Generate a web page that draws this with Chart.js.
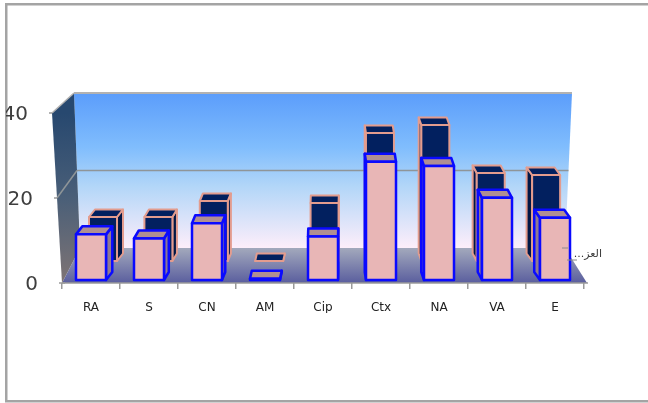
<!DOCTYPE html>
<html>
<head>
<meta charset="utf-8">
<style>html,body{margin:0;padding:0;background:#fff}canvas{display:block}</style>
<script src="https://cdn.jsdelivr.net/npm/chart.js@4/dist/chart.umd.js"></script>
</head>
<body>
<canvas id="c" width="648" height="403"></canvas>
<script>
// Antibiotic categories and the two series of the 3D column chart
const categories = ['RA', 'S', 'CN', 'AM', 'Cip', 'Ctx', 'NA', 'VA', 'E'];
const frontValues = [11, 10, 13.7, 0.3, 10.5, 28.5, 27.5, 19.8, 15];
const backValues = [11, 11, 15, 0, 14.5, 32, 34, 22, 21.5];
const yTicks = [0, 20, 40];
const depthLabel = 'العز...';

// Perspective constants of the 3D box
const VANISH_X = 358, BACK_RATIO = 0.955, LEAN_K = 0.026;
const TOP_RISE = { front: 8, back: 7.5 };
const WALL_TOP = 93, WALL_BOTTOM = 248, WALL_LEFT_TOP = 74, WALL_LEFT_BOTTOM = 80;
const WALL_RIGHT_TOP = 572, WALL_RIGHT_BOTTOM = 565;

function poly(ctx, pts, fill, stroke, lw) {
  ctx.beginPath();
  pts.forEach((p, i) => i ? ctx.lineTo(p[0], p[1]) : ctx.moveTo(p[0], p[1]));
  ctx.closePath();
  if (fill) { ctx.fillStyle = fill; ctx.fill(); }
  if (stroke) { ctx.strokeStyle = stroke; ctx.lineWidth = lw; ctx.lineJoin = 'round'; ctx.stroke(); }
}

function line(ctx, x1, y1, x2, y2, color, lw) {
  ctx.beginPath(); ctx.moveTo(x1, y1); ctx.lineTo(x2, y2);
  ctx.strokeStyle = color; ctx.lineWidth = lw; ctx.stroke();
}

// Room of the 3D chart: back wall, floor, left wall, gridlines and value labels
const room = {
  id: 'room',
  beforeDatasetsDraw(chart) {
    const { ctx, chartArea: a, scales } = chart;
    const y = scales.y;
    const edgeX = v => a.left - v * 0.25;
    const backY = v => WALL_BOTTOM - (WALL_BOTTOM - WALL_TOP) * v / 40;
    const backLeft = v => WALL_LEFT_BOTTOM - (WALL_LEFT_BOTTOM - WALL_LEFT_TOP) * v / 40;
    const backRight = v => WALL_RIGHT_BOTTOM + (WALL_RIGHT_TOP - WALL_RIGHT_BOTTOM) * v / 40;
    ctx.save();

    // outer frame, open on the right
    ctx.fillStyle = '#a4a4a4';
    ctx.fillRect(5, 3, 643, 2.5);
    ctx.fillRect(5, 3, 2.5, 399);
    ctx.fillRect(5, 400, 643, 2.5);

    const wall = ctx.createLinearGradient(0, WALL_TOP, 0, WALL_BOTTOM);
    wall.addColorStop(0, '#5b9dfb');
    wall.addColorStop(0.35, '#80bdfd');
    wall.addColorStop(0.6, '#b2d6f8');
    wall.addColorStop(1, '#fdeefa');
    poly(ctx, [[WALL_LEFT_TOP, WALL_TOP], [WALL_RIGHT_TOP, WALL_TOP], [WALL_RIGHT_BOTTOM, WALL_BOTTOM], [WALL_LEFT_BOTTOM, WALL_BOTTOM]], wall);

    const floor = ctx.createLinearGradient(0, WALL_BOTTOM, 0, a.bottom);
    floor.addColorStop(0, '#a3a9bc');
    floor.addColorStop(1, '#5a5e9e');
    poly(ctx, [[WALL_LEFT_BOTTOM, WALL_BOTTOM], [WALL_RIGHT_BOTTOM, WALL_BOTTOM], [a.right + 3, a.bottom], [a.left, a.bottom]], floor);

    const side = ctx.createLinearGradient(0, y.top, 0, y.bottom);
    side.addColorStop(0, '#27486f');
    side.addColorStop(0.5, '#4a5f78');
    side.addColorStop(1, '#7f7474');
    poly(ctx, [[edgeX(40), y.getPixelForValue(40)], [WALL_LEFT_TOP, WALL_TOP], [WALL_LEFT_BOTTOM, WALL_BOTTOM], [a.left, a.bottom]], side);

    // gridlines run along the left wall and across the back wall
    yTicks.forEach(v => {
      const py = y.getPixelForValue(v);
      if (v > 0) {
        const col = v === 40 ? '#b2b2b2' : '#8f9598';
        line(ctx, edgeX(v), py, backLeft(v), backY(v), col, 1.5);
        line(ctx, backLeft(v), backY(v), backRight(v), backY(v), col, v === 40 ? 2 : 1.5);
      }
      line(ctx, edgeX(v) - 3, py, edgeX(v) + (v ? 0 : 3), py, '#9a9a9a', 1.5);
    });

    // value labels follow the slanted front edge and are cut by the frame
    ctx.save();
    ctx.beginPath(); ctx.rect(6, 0, 200, 403); ctx.clip();
    ctx.fillStyle = '#3e3e3e';
    ctx.font = '20px "DejaVu Sans"';
    ctx.textAlign = 'right';
    ctx.textBaseline = 'middle';
    yTicks.forEach(v => ctx.fillText(String(v), edgeX(v) - 24, y.getPixelForValue(v) + 1.5));
    ctx.restore();
    ctx.restore();
  },
  afterDatasetsDraw(chart) {
    const { ctx, chartArea: a } = chart;
    ctx.save();
    line(ctx, a.left, a.bottom, a.right + 4, a.bottom, '#9a9a9a', 1.5);
    line(ctx, 562, 248, 568, 248, '#8a8a8a', 1);
    line(ctx, 567, 260, 577, 260, '#8a8a8a', 1);
    ctx.fillStyle = '#3a3a3a';
    ctx.font = '11px "DejaVu Sans"';
    ctx.direction = 'rtl';
    ctx.textAlign = 'right';
    ctx.textBaseline = 'middle';
    ctx.fillText(depthLabel, 602, 254);
    ctx.restore();
  }
};

// Draws each bar element as a cuboid, using the pixels the bar controller computed
const columns3d = {
  id: 'columns3d',
  beforeDatasetDraw(chart, args) {
    const ds = chart.data.datasets[args.index];
    const { ctx } = chart;
    const isBack = ds.layer === 'back';
    const rise = isBack ? TOP_RISE.back : TOP_RISE.front;
    ctx.save();
    args.meta.data.forEach(el => {
      const cx = isBack ? VANISH_X + (el.x - VANISH_X) * BACK_RATIO : el.x;
      const half = ds.barThickness / 2;
      const l = cx - half, r = cx + half, t = el.y, b = el.base;
      const dx = (VANISH_X - 25 - cx) * LEAN_K;
      const edge = ds.borderColor, lw = ds.borderWidth;
      if (dx > 0) {
        poly(ctx, [[r, t], [r + dx, t - rise], [r + dx, b - rise], [r, b]], ds.sideColor, edge, lw);
      } else {
        poly(ctx, [[l, t], [l + dx, t - rise], [l + dx, b - rise], [l, b]], ds.sideColor, edge, lw);
      }
      poly(ctx, [[l, t], [l + dx, t - rise], [r + dx, t - rise], [r, t]], ds.topColor, edge, lw);
      poly(ctx, [[l, t], [r, t], [r, b], [l, b]], ds.backgroundColor, edge, lw);
    });
    ctx.restore();
    return false;
  }
};

new Chart(document.getElementById('c'), {
  type: 'bar',
  data: {
    labels: categories,
    datasets: [
      { label: 'front', layer: 'front', data: frontValues, yAxisID: 'yFront', barThickness: 30,
        backgroundColor: '#e8b6b6', topColor: '#b08f92', sideColor: '#8f7a92',
        borderColor: '#0a0aff', borderWidth: 2.5 },
      { label: 'back', layer: 'back', data: backValues, yAxisID: 'yBack', barThickness: 28,
        backgroundColor: '#02205f', topColor: '#02205f', sideColor: '#011746',
        borderColor: '#e39c8e', borderWidth: 2 }
    ]
  },
  options: {
    responsive: false,
    animation: false,
    events: [],
    grouped: false,
    layout: { padding: { left: 62, right: 64, top: 113, bottom: 90 } },
    plugins: { legend: { display: false }, tooltip: { enabled: false } },
    scales: {
      x: {
        afterFit(scale) { scale.height = 30; },
        grid: { drawOnChartArea: false, color: '#9a9a9a', tickLength: 6, lineWidth: 1.5 },
        border: { display: false },
        ticks: { color: '#222', font: { family: 'DejaVu Sans', size: 12 }, padding: 12, maxRotation: 0, autoSkip: false }
      },
      // axis of the labelled front edge
      y: { display: false, min: 0, max: 40, ticks: { stepSize: 20 } },
      // each series stands on its own depth plane with its own foreshortening
      yFront: { display: false, min: -0.72, max: 40.24 },
      yBack: { display: false, min: -5.5, max: 37 }
    }
  },
  plugins: [room, columns3d]
});
</script>
</body>
</html>
